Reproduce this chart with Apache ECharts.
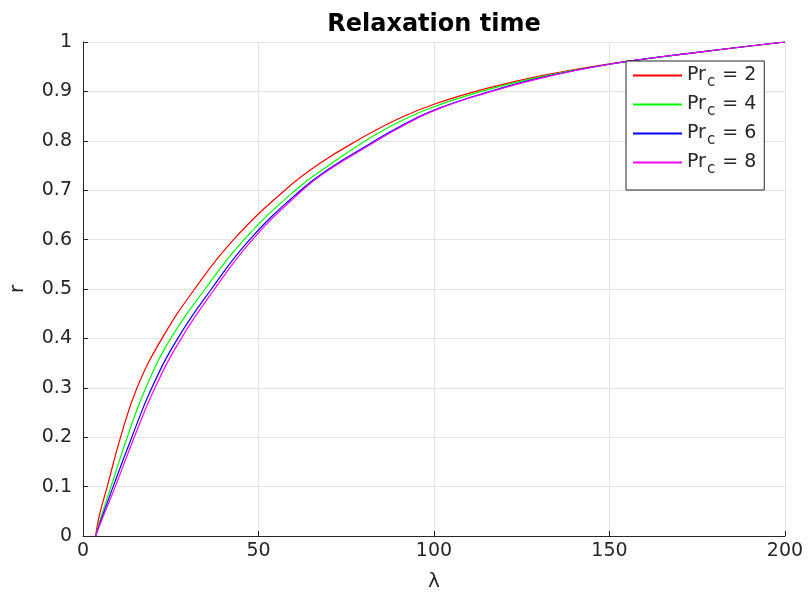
<!DOCTYPE html>
<html>
<head>
<meta charset="utf-8">
<script src="https://cdn.jsdelivr.net/npm/echarts@6/dist/echarts.min.js"></script>
<style>
html,body{margin:0;padding:0;background:#fff;}
#chart{width:811px;height:597px;}
</style>
</head>
<body>
<div id="chart"></div>
<script>
// Data (lambda, r) for each Pr_c
const prValues = [2, 4, 6, 8];
const colors = ['#ff0000', '#00ff00', '#0000ff', '#ff00ff'];

const lambda2 = [3.6, 4.6, 6.9, 10.7, 15.4, 22.5, 31.8, 42.9, 57.5, 67, 78, 90, 100, 115, 130, 150, 175, 200];
const r2      = [0, 0.04, 0.1, 0.2, 0.3, 0.4, 0.5, 0.6, 0.7, 0.752, 0.8, 0.845, 0.874, 0.906, 0.931, 0.956, 0.979, 1];

const lambda4 = [3.6, 5.0, 8.0, 12.6, 17.9, 25.0, 34.8, 45.9, 60.5, 70, 80.5, 90, 100, 115, 130, 150, 175, 200];
const r4      = [0, 0.035, 0.1, 0.2, 0.3, 0.4, 0.5, 0.6, 0.7, 0.75, 0.8, 0.838, 0.869, 0.903, 0.929, 0.955, 0.979, 1];

const lambda6 = [3.6, 5.0, 8.6, 13.9, 19.6, 27.0, 36.6, 47.5, 62, 70, 82, 90, 100, 115, 130, 150, 175, 200];
const r6      = [0, 0.03, 0.1, 0.2, 0.3, 0.4, 0.5, 0.6, 0.7, 0.743, 0.795, 0.828, 0.862, 0.898, 0.927, 0.955, 0.979, 1];

const lambda8 = [3.6, 5.2, 9.2, 14.6, 20.5, 28.0, 37.5, 48.3, 62.5, 70, 82.5, 90, 100, 115, 130, 150, 175, 200];
const r8      = [0, 0.03, 0.1, 0.2, 0.3, 0.4, 0.5, 0.6, 0.7, 0.741, 0.795, 0.826, 0.861, 0.897, 0.926, 0.955, 0.979, 1];

const xTicks = [0, 50, 100, 150, 200];
const yTicks = [0, 0.1, 0.2, 0.3, 0.4, 0.5, 0.6, 0.7, 0.8, 0.9, 1];

const lambdas = [lambda2, lambda4, lambda6, lambda8];
const rs = [r2, r4, r6, r8];

const FONT = 'DejaVu Sans';
const TXT = '#262626';

const series = prValues.map((p, i) => ({
  name: 'Pr_c = ' + p,
  type: 'line',
  data: lambdas[i].map((x, k) => [x, rs[i][k]]),
  symbol: 'none',
  smooth: 0.45,
  lineStyle: { color: colors[i], width: 1.2 },
  itemStyle: { color: colors[i] },
  clip: true
}));

const chart = echarts.init(document.getElementById('chart'), null, { renderer: 'canvas' });
chart.setOption({
  animation: false,
  backgroundColor: '#ffffff',
  title: {
    text: 'Relaxation time',
    left: 429,
    textAlign: 'center',
    top: 8,
    textStyle: { fontFamily: FONT, fontWeight: 'bold', fontSize: 24, color: '#000' }
  },
  grid: { left: 83, right: 26, top: 42, bottom: 61, containLabel: false, outerBoundsMode: 'none' },
  xAxis: {
    type: 'value',
    min: xTicks[0], max: xTicks[xTicks.length - 1], interval: 50,
    name: 'λ', nameLocation: 'middle', nameGap: 36,
    nameTextStyle: { fontFamily: FONT, fontSize: 20, color: TXT },
    axisLine: { show: true, onZero: false, lineStyle: { color: TXT, width: 1 } },
    axisTick: { show: true, inside: true, length: 5, lineStyle: { color: TXT } },
    axisLabel: { fontFamily: FONT, fontSize: 19, color: TXT, margin: 6 },
    splitLine: { show: true, lineStyle: { color: '#e3e3e3', width: 1 } }
  },
  yAxis: {
    type: 'value',
    min: yTicks[0], max: yTicks[yTicks.length - 1], interval: 0.1,
    name: 'r', nameLocation: 'middle', nameGap: 55, nameRotate: 90,
    nameTextStyle: { fontFamily: FONT, fontSize: 20, color: TXT },
    axisLine: { show: true, onZero: false, lineStyle: { color: TXT, width: 1 } },
    axisTick: { show: true, inside: true, length: 5, lineStyle: { color: TXT } },
    axisLabel: {
      fontFamily: FONT, fontSize: 19, color: TXT, margin: 11,
      formatter: v => String(Math.round(v * 10) / 10)
    },
    splitLine: { show: true, lineStyle: { color: '#e3e3e3', width: 1 } }
  },
  legend: {
    orient: 'vertical',
    left: 626, top: 61,
    padding: [5, 8, 13, 6],
    itemGap: 5,
    itemWidth: 49, itemHeight: 19,
    borderColor: TXT, borderWidth: 1, borderRadius: 0,
    backgroundColor: '#ffffff',
    itemStyle: { opacity: 0 },
    data: prValues.map(p => 'Pr_c = ' + p),
    formatter: name => {
      const v = name.split('= ')[1];
      return '{a|Pr}{s|c}{a| = ' + v + '}';
    },
    textStyle: {
      fontFamily: FONT, fontSize: 19, color: TXT,
      rich: {
        a: { fontFamily: FONT, fontSize: 19, color: TXT },
        s: { fontFamily: FONT, fontSize: 15, color: TXT, padding: [14, 1, 0, 1] }
      }
    }
  },
  series: series
});
</script>
</body>
</html>
